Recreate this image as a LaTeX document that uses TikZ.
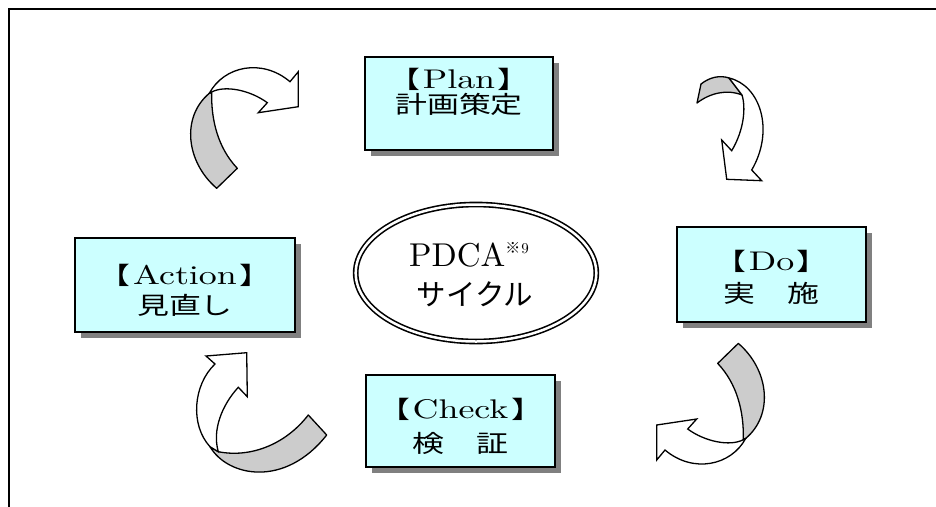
\documentclass[tikz,border=0pt]{standalone}
\usepackage{fontspec}
\usepackage{graphicx}
\setmainfont{lmroman10-regular.otf}
\newfontfamily\cjk{Noto Sans CJK JP}
\usetikzlibrary{shadows,shapes.geometric}
\definecolor{boxcyan}{HTML}{CCFFFF}
\definecolor{shadowgray}{HTML}{808080}
\definecolor{bandgray}{HTML}{CCCCCC}
\newcommand{\boxtxt}[1]{\scalebox{1.33}[1]{\fontsize{24pt}{28pt}\selectfont #1}}
\newcommand{\lat}[1]{{\fontsize{27pt}{28pt}\selectfont #1}}
\newcommand{\lbr}{{\cjk 【}\kern2pt}
\newcommand{\rbr}{\kern2pt{\cjk 】}}
\tikzset{
  cbox/.style={draw=black, line width=1.6pt, fill=boxcyan, inner sep=0pt,
    drop shadow={shadow xshift=6pt, shadow yshift=-6pt, fill=shadowgray, opacity=1}},
  txt/.style={inner sep=0pt, anchor=base},
  band/.style={draw=black, line width=1.3pt, fill=bandgray, line join=round},
  wband/.style={draw=black, line width=1.3pt, fill=white, line join=miter},
  carrow/.pic={
    \path[band] (-27.3,58.3) .. controls (-58,32) and (-63,-13) .. (-34.7,-36.7)
      -- (-32.3,-37.5) .. controls (-33,-10) and (-26,18) .. (-6.7,38.3) -- cycle;
    \path[wband] (-34.7,-36.7) .. controls (-20,-64) and (18,-72) .. (46,-48.3)
      -- (54.3,-58.3) -- (54.3,-23.3) -- (14.3,-17.3) -- (23.3,-27.3)
      .. controls (6,-40) and (-19,-45) .. (-32.3,-38) -- cycle;
  }
}
\begin{document}
\begin{tikzpicture}[x=1pt,y=-1pt]
\useasboundingbox (0,0) rectangle (936,506);
\draw[line width=2pt] (9.3,507) -- (9.3,9) -- (937,9);

% boxes
\node[cbox, minimum width=188pt, minimum height=93pt] (plan) at (459,103.5) {};
\node[cbox, minimum width=189pt, minimum height=95pt] (do) at (771.5,274.5) {};
\node[cbox, minimum width=189pt, minimum height=92pt] (check) at (460.5,421) {};
\node[cbox, minimum width=220pt, minimum height=94pt] (action) at (185,285) {};

% box texts
\node[txt] (planA) at (459,88) {\boxtxt{\lbr\lat{Plan}\rbr}};
\node[txt] (planB) at (459,113) {\boxtxt{\cjk 計画策定}};
\node[txt] (doA) at (771.5,270) {\boxtxt{\lbr\lat{Do}\rbr}};
\node[txt] (doB) at (771.5,302) {\boxtxt{\cjk 実　施}};
\node[txt] (checkA) at (460.5,418) {\boxtxt{\lbr\lat{Check}\rbr}};
\node[txt] (checkB) at (460.5,452) {\boxtxt{\cjk 検　証}};
\node[txt] (actionA) at (185,284) {\boxtxt{\lbr\lat{Action}\rbr}};
\node[txt] (actionB) at (185,314) {\boxtxt{\cjk 見直し}};

% ellipse
\node[ellipse, draw=black, double, double distance=2.5pt, line width=1.6pt,
      minimum width=240.6pt, minimum height=137pt, inner sep=0pt] (pdca) at (476,273) {};
\node[txt] (pdcaA) at (469,266) {\fontsize{33pt}{35pt}\selectfont PDCA\raisebox{12.5pt}{\fontsize{15pt}{15pt}\selectfont{\cjk ※}\kern1pt 9}};
\node[txt] (pdcaB) at (475,305) {\fontsize{29.5pt}{30pt}\selectfont\cjk サイクル};

% curved arrows
\pic (arr1) at (244,130) {carrow};
\pic[rotate=180] (arr3) at (711,401.7) {carrow};

% arrow Plan -> Do
\path[band] (697,103) -- (701,84) .. controls (710,77) and (720,75) .. (729,78)
  -- (742,95) .. controls (727,89) and (710,93) .. (697,103) -- cycle;
\path[wband] (729,78) .. controls (760,85) and (775,130) .. (751.7,170)
  -- (761.7,180.7) -- (726.7,179.3) -- (721.7,140) -- (731.7,150.7)
  .. controls (744,130) and (746,108) .. (742,95) -- cycle;

% arrow Check -> Action
\path[band] (210,446.7) .. controls (228,477) and (285,488) .. (326.7,435)
  -- (308.3,415) .. controls (285,445) and (250,458) .. (218.3,451.7) -- cycle;
\path[wband] (210,446.7) .. controls (190,425) and (193,385) .. (215,364)
  -- (206,356) -- (246.7,352.7) -- (247.3,396.7) -- (238.3,387.3)
  .. controls (222,405) and (212,430) .. (218.3,451.7) -- cycle;
\end{tikzpicture}
\end{document}
